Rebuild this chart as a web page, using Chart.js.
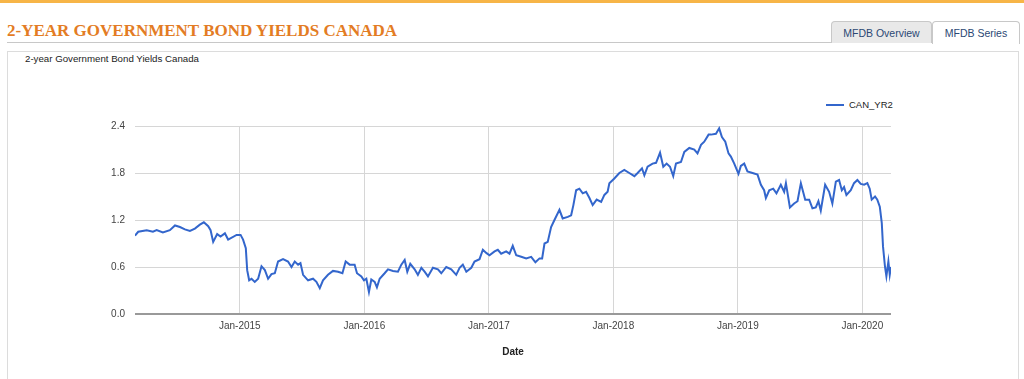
<!DOCTYPE html>
<html><head><meta charset="utf-8">
<script src="https://cdn.jsdelivr.net/npm/chart.js@4.4.1/dist/chart.umd.min.js"></script>
<style>
html,body{margin:0;padding:0;width:1024px;height:379px;overflow:hidden;background:#fff;font-family:"Liberation Sans",Arial,sans-serif;}
#topbar{position:absolute;left:0;top:0;width:1024px;height:3px;background:#f7b547;}
#pagetitle{position:absolute;left:7px;top:21px;font-family:"Liberation Serif","Times New Roman",serif;font-size:17px;font-weight:bold;color:#e37c24;white-space:nowrap;}
#titleline{position:absolute;left:7px;top:42px;width:825px;height:1px;background:#c8c8c8;}
.tab{position:absolute;top:21px;height:21px;border:1px solid #c8c8c8;border-bottom:none;border-radius:4px 4px 0 0;font-size:10.5px;color:#2b4874;line-height:22px;text-align:center;}
#tab1{left:831px;width:99px;background:#e9e9e9;}
#tab2{left:932px;width:86px;background:#fff;height:22px;}
#panel{position:absolute;left:7px;top:51px;width:1010px;height:340px;border:1px solid #dcdcdc;}
#paneltitle{position:absolute;left:25px;top:53px;font-size:9.7px;color:#222;white-space:nowrap;}
#legend{position:absolute;left:826px;top:98px;font-size:9.5px;color:#222;white-space:nowrap;line-height:14px;}
#legend .sw{display:inline-block;width:18px;height:2px;background:#3366cc;vertical-align:middle;margin-right:5px;}
#c{position:absolute;left:0;top:0;}
</style></head>
<body>
<div id="topbar"></div>
<div id="pagetitle">2-YEAR GOVERNMENT BOND YIELDS CANADA</div>
<div id="titleline"></div>
<div class="tab" id="tab1">MFDB Overview</div>
<div class="tab" id="tab2">MFDB Series</div>
<div id="panel"></div>
<div id="paneltitle">2-year Government Bond Yields Canada</div>
<div id="legend"></div>
<canvas id="c" width="1024" height="379"></canvas>
<script>
// Dates as decimal years
const dates = [
2014.158,2014.184,2014.252,2014.302,2014.332,2014.382,2014.438,2014.479,2014.519,2014.559,
2014.599,2014.639,2014.679,2014.711,2014.746,2014.765,2014.786,2014.818,2014.845,2014.880,
2014.906,2014.974,2015.006,2015.026,2015.048,2015.059,2015.075,2015.094,2015.120,2015.147,
2015.174,2015.201,2015.227,2015.254,2015.281,2015.307,2015.347,2015.387,2015.415,2015.441,
2015.468,2015.487,2015.508,2015.548,2015.588,2015.615,2015.642,2015.668,2015.708,2015.748,
2015.789,2015.824,2015.850,2015.882,2015.922,2015.941,2015.976,2015.997,2016.016,2016.037,
2016.056,2016.083,2016.101,2016.123,2016.163,2016.190,2016.230,2016.270,2016.297,2016.324,
2016.345,2016.369,2016.404,2016.430,2016.458,2016.484,2016.511,2016.551,2016.591,2016.618,
2016.658,2016.698,2016.738,2016.765,2016.791,2016.819,2016.859,2016.885,2016.925,2016.952,
2016.979,2017.005,2017.046,2017.072,2017.099,2017.139,2017.166,2017.192,2017.220,2017.260,
2017.300,2017.340,2017.374,2017.407,2017.428,2017.447,2017.473,2017.500,2017.527,2017.567,
2017.593,2017.634,2017.661,2017.679,2017.701,2017.727,2017.754,2017.781,2017.808,2017.834,
2017.866,2017.902,2017.928,2017.954,2017.968,2018.008,2018.048,2018.088,2018.128,2018.169,
2018.195,2018.230,2018.249,2018.275,2018.315,2018.343,2018.375,2018.401,2018.428,2018.455,
2018.481,2018.503,2018.543,2018.570,2018.610,2018.650,2018.676,2018.704,2018.730,2018.765,
2018.784,2018.824,2018.850,2018.872,2018.899,2018.925,2018.944,2018.971,2019.005,2019.024,
2019.051,2019.077,2019.118,2019.158,2019.185,2019.211,2019.225,2019.252,2019.284,2019.310,
2019.345,2019.372,2019.386,2019.418,2019.452,2019.479,2019.506,2019.541,2019.573,2019.599,
2019.626,2019.647,2019.666,2019.701,2019.733,2019.759,2019.787,2019.813,2019.835,2019.853,
2019.872,2019.907,2019.933,2019.960,2019.987,2020.014,2020.040,2020.059,2020.075,2020.102,
2020.120,2020.140,2020.156,2020.166,2020.182,2020.193,2020.209,2020.220,2020.230
];
const yields = [
1.00,1.05,1.07,1.05,1.07,1.04,1.07,1.13,1.11,1.08,
1.06,1.09,1.14,1.17,1.12,1.07,0.92,1.02,0.99,1.03,
0.95,1.01,1.01,0.95,0.84,0.56,0.43,0.45,0.41,0.45,
0.61,0.56,0.45,0.51,0.52,0.67,0.70,0.67,0.60,0.67,
0.63,0.65,0.50,0.43,0.45,0.41,0.33,0.43,0.50,0.55,
0.54,0.52,0.67,0.63,0.63,0.52,0.48,0.43,0.45,0.28,
0.44,0.41,0.34,0.45,0.52,0.57,0.55,0.54,0.63,0.69,
0.54,0.64,0.57,0.50,0.59,0.54,0.48,0.59,0.57,0.52,
0.60,0.57,0.50,0.59,0.63,0.54,0.59,0.67,0.70,0.82,
0.78,0.75,0.80,0.82,0.77,0.80,0.77,0.87,0.75,0.73,
0.71,0.73,0.66,0.71,0.71,0.90,0.92,1.11,1.20,1.33,
1.22,1.24,1.26,1.39,1.58,1.60,1.54,1.56,1.48,1.39,
1.46,1.43,1.52,1.56,1.67,1.73,1.80,1.84,1.80,1.76,
1.80,1.86,1.77,1.88,1.92,1.93,2.06,1.88,1.92,1.88,
1.76,1.92,1.94,2.07,2.12,2.10,2.05,2.16,2.20,2.29,
2.29,2.30,2.37,2.26,2.20,2.05,2.01,1.92,1.79,1.89,
1.92,1.82,1.80,1.78,1.65,1.58,1.48,1.58,1.60,1.54,
1.65,1.56,1.67,1.36,1.41,1.44,1.67,1.46,1.46,1.35,
1.36,1.44,1.32,1.65,1.56,1.41,1.69,1.71,1.58,1.62,
1.52,1.58,1.67,1.71,1.66,1.65,1.67,1.60,1.46,1.50,
1.46,1.37,1.16,0.86,0.60,0.48,0.67,0.50,0.60
];
const seriesName = 'CAN_YR2';
const xTitle = 'Date';
const xTickYears = [2015,2016,2017,2018,2019,2020];
const yTicks = [0.0,0.6,1.2,1.8,2.4];

document.getElementById('legend').innerHTML = '<span class="sw"></span>' + seriesName;

const FONT = '"Liberation Sans", Arial, sans-serif';
const points = dates.map((d,i)=>({x:d,y:yields[i]}));
new Chart(document.getElementById('c'), {
  type:'line',
  data:{datasets:[{label:seriesName,data:points,borderColor:'#3366cc',backgroundColor:'#3366cc',borderWidth:2,pointRadius:0,tension:0,fill:false}]},
  options:{
    responsive:false,animation:false,
    layout:{padding:{left:0,top:126,right:133,bottom:0}},
    plugins:{legend:{display:false},tooltip:{enabled:false}},
    scales:{
      x:{type:'linear',min:dates[0],max:dates[dates.length-1],
        afterBuildTicks:s=>{s.ticks=xTickYears.map(v=>({value:v}));},
        afterFit:s=>{s.height=65;},
        grid:{color:'#d6d6d6',lineWidth:1,drawTicks:false},
        border:{display:false},
        ticks:{padding:6,color:'#444',font:{family:FONT,size:10},callback:v=>'Jan-'+v,maxRotation:0,autoSkip:false},
        title:{display:true,text:xTitle,color:'#222',font:{family:FONT,size:10,weight:'bold'},padding:{top:0,bottom:21}}
      },
      y:{min:0,max:2.4,
        afterBuildTicks:s=>{s.ticks=yTicks.map(v=>({value:v}));},
        afterFit:s=>{s.width=135;},
        grid:{color:c=>c.tick&&c.tick.value===0?'#999999':'#d6d6d6',lineWidth:c=>c.tick&&c.tick.value===0?2:1,drawTicks:false},
        border:{display:false},
        ticks:{padding:10,color:'#444',font:{family:FONT,size:10},callback:v=>Number(v).toFixed(1)}
      }
    }
  }
});
</script>
</body></html>
